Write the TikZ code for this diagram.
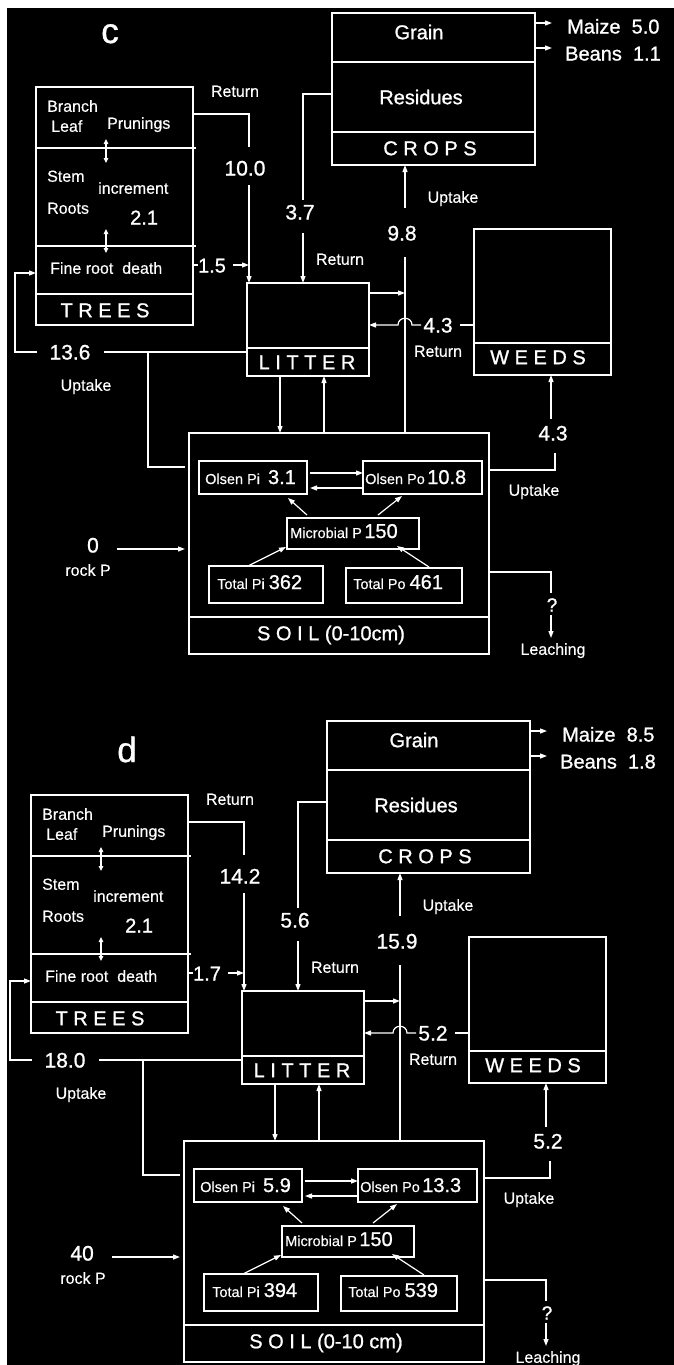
\documentclass[tikz,border=0pt]{standalone}
\usepackage{fontspec}
\setmainfont{Liberation Sans}[FakeBold=0.35]
\newfontfamily\heavy{Liberation Sans}[FakeBold=1.0]
\usetikzlibrary{arrows.meta}
\tikzset{
  box/.style={draw=white, line width=1.8pt, inner sep=0pt, outer sep=0pt, anchor=north west},
  ibox/.style={draw=white, line width=1.1pt, inner sep=0pt, outer sep=0pt, anchor=north west},
  sep/.style={draw=white, line width=1.5pt},
  conn/.style={draw=white, line width=1.2pt},
  arr/.style={conn, -{Triangle[length=7pt,width=5pt]}},
  darr/.style={conn, {Triangle[length=5pt,width=4.5pt]}-{Triangle[length=5pt,width=4.5pt]}},
  sm/.style={text=white, inner sep=0pt, text height=11.5pt, text depth=0pt, font=\fontsize{16}{18}\selectfont},
  num/.style={text=white, inner sep=0pt, text height=15pt, text depth=0pt, font=\heavy\fontsize{21}{24}\selectfont},
  big/.style={text=white, inner sep=0pt, text height=14.4pt, text depth=0pt, font=\heavy\fontsize{20}{24}\selectfont},
  tiny/.style={text=white, inner sep=0pt, anchor=base west, font=\fontsize{14.5}{16}\selectfont},
  letter/.style={text=white, inner sep=0pt, anchor=base, font=\heavy\fontsize{35}{36}\selectfont},
}
\newcommand{\bn}[1]{{\heavy\fontsize{20}{20}\selectfont #1}}
\newcommand{\panelbody}{%
  \node[letter] (letter) at (\vLx,\vLy) {\vL};
  % boxes
  \node[box, minimum width=157pt, minimum height=238pt] (trees) at (36,87) {};
  \node[box, minimum width=203pt, minimum height=152pt] (crops) at (332,13) {};
  \node[box, minimum width=122pt, minimum height=93pt] (litter) at (247,283) {};
  \node[box, minimum width=137pt, minimum height=146pt] (weeds) at (474,229) {};
  \node[box, minimum width=300pt, minimum height=221pt] (soil) at (189,433) {};
  \node[ibox, minimum width=108pt, minimum height=33pt] (opi) at (199,461) {};
  \node[ibox, minimum width=119pt, minimum height=33pt] (opo) at (363,461) {};
  \node[ibox, minimum width=132pt, minimum height=31pt] (mic) at (287,518) {};
  \node[ibox, minimum width=114pt, minimum height=37pt] (tpi) at (209,566) {};
  \node[ibox, minimum width=116pt, minimum height=35pt] (tpo) at (346,568) {};
  % separators
  \draw[sep] (36,148) -- (196,148);
  \draw[sep] (36,246) -- (196,246);
  \draw[sep] (36,294) -- (193,294);
  \draw[sep] (332,62) -- (535,62);
  \draw[sep] (332,132) -- (535,132);
  \draw[sep] (247,348) -- (369,348);
  \draw[sep] (474,343) -- (611,343);
  \draw[sep] (189,617) -- (489,617);
  % box texts
  \node[sm, anchor=west] (branch) at (47,106) {Branch};
  \node[sm, anchor=west] (leaf) at (51,126) {Leaf};
  \node[sm, anchor=west] (prun) at (107,123) {Prunings};
  \node[sm, anchor=west] (stem) at (47,176) {Stem};
  \node[sm, anchor=west] (incr) at (98,188) {increment};
  \node[sm, anchor=west] (roots) at (47,208) {Roots};
  \node[num, anchor=west, font=\heavy\fontsize{20}{22}\selectfont] (inc) at (130,217) {2.1};
  \node[sm, anchor=west] (frd) at (50,268) {Fine root\ \ death};
  \coordinate (da1) at (106,139); \coordinate (da2) at (106,163);
  \draw[darr] (da1) -- (da2);
  \coordinate (db1) at (106,229); \coordinate (db2) at (106,253);
  \draw[darr] (db1) -- (db2);
  \node[big] (treesl) at (105,310) {T R E E S};
  \node[big] (grain) at (419,32) {Grain};
  \node[big] (resid) at (421,97) {Residues};
  \node[big] (cropsl) at (430,148) {C R O P S};
  \node[big] (litl) at (307,362) {L I T T E R};
  \node[big] (weedsl) at (538,357) {W E E D S};
  \node[big] (soill) at (331,633) {\vSoil};
  \node[tiny] (topi) at (205,484) {Olsen Pi\ \ \bn{\vOpi}};
  \node[tiny] (topo) at (365,484) {Olsen Po\,\bn{\vOpo}};
  \node[tiny] (tmic) at (290,538) {Microbial P\,\bn{\vMic}};
  \node[tiny] (ttpi) at (217,589) {Total Pi \bn{\vTpi}};
  \node[tiny] (ttpo) at (353,589) {Total Po \bn{\vTpo}};
  % prunings return
  \node[sm] (ret1) at (235,91) {Return};
  \coordinate (pa) at (249,114);
  \coordinate (pa2) at (249,147);
  \draw[conn] (trees.east |- pa) -- (pa) -- (pa2);
  \node[num] (vprun) at (245,168) {\vPrun};
  \coordinate (pb) at (249,185);
  \draw[arr] (pb) -- (pb |- litter.north);
  % fine root death
  \coordinate (fa) at (198,265);
  \draw[conn] (trees.east |- fa) -- (fa);
  \node[num, font=\heavy\fontsize{20}{22}\selectfont] (vfr) at (212,265) {\vFr};
  \coordinate (fb) at (233,265);
  \draw[arr] (fb) -- (pa |- fb);
  % crop residue return
  \coordinate (ca) at (303,94);
  \coordinate (ca2) at (303,200);
  \draw[conn] (crops.west |- ca) -- (ca) -- (ca2);
  \node[num] (vcr) at (300,212) {\vCr};
  \coordinate (cb) at (303,233);
  \draw[arr] (cb) -- (cb |- litter.north);
  \node[sm] (ret2) at (340,259) {Return};
  % crop uptake
  \coordinate (ua) at (405,257);
  \draw[conn] (ua |- soil.north) -- (ua);
  \node[num] (vcu) at (402,233) {\vCu};
  \coordinate (ub) at (405,208);
  \draw[arr] (ub) -- (ub |- crops.south);
  \node[sm] (upt1) at (453,197) {Uptake};
  % exports
  \coordinate (ga) at (552,23);
  \draw[arr] (crops.east |- ga) -- (ga);
  \node[num, anchor=west, font=\heavy\fontsize{20}{22}\selectfont] (maize) at (567,26) {Maize\ \ \vMaize};
  \coordinate (gb) at (552,48);
  \draw[arr] (crops.east |- gb) -- (gb);
  \node[num, anchor=west, font=\heavy\fontsize{20}{22}\selectfont] (beans) at (565,53) {Beans\ \ \vBeans};
  % litter to uptake line
  \coordinate (la) at (405,293);
  \draw[arr] (litter.east |- la) -- (la);
  % weeds return
  \coordinate (wa) at (460,325);
  \draw[conn] (weeds.west |- wa) -- (wa);
  \node[num] (vwr) at (438,325) {\vWr};
  \coordinate (wb) at (421,325);
  \coordinate (wj1) at (412,325);
  \coordinate (wj2) at (398,325);
  \draw[arr] (wb) -- (wj1) .. controls (412,316) and (398,316) .. (wj2) -- (litter.east |- wb);
  \node[sm] (ret3) at (438,351) {Return};
  % tree uptake
  \coordinate (td) at (185,467);
  \coordinate (ta) at (148,467);
  \coordinate (tb) at (148,352);
  \coordinate (tc) at (104,352);
  \draw[conn] (td) -- (ta) -- (tb) -- (tc);
  \draw[conn] (tb) -- (litter.west |- tb);
  \node[num] (vtu) at (70,352) {\vTu};
  \coordinate (te) at (37,352);
  \coordinate (tf) at (15,352);
  \coordinate (tg) at (15,273);
  \draw[arr] (te) -- (tf) -- (tg) -- (trees.west |- tg);
  \node[sm] (upt2) at (86,385) {Uptake};
  % litter <-> soil
  \coordinate (ls1) at (280,400);
  \draw[arr] (litter.south -| ls1) -- (soil.north -| ls1);
  \coordinate (ls2) at (324,400);
  \draw[arr] (soil.north -| ls2) -- (litter.south -| ls2);
  % soil internal flows
  \coordinate (oa) at (310,473);
  \draw[arr] (oa) -- (opo.west |- oa);
  \coordinate (ob) at (310,488);
  \draw[arr] (opo.west |- ob) -- (ob);
  \coordinate (m1) at (307,515); \coordinate (m2) at (288,498);
  \draw[arr] (m1) -- (m2);
  \coordinate (m3) at (378,515); \coordinate (m4) at (402,496);
  \draw[arr] (m3) -- (m4);
  \coordinate (m5) at (248,566); \coordinate (m6) at (286,547);
  \draw[arr] (m5) -- (m6);
  \coordinate (m7) at (429,567); \coordinate (m8) at (397,546);
  \draw[arr] (m7) -- (m8);
  % rock P
  \node[num, anchor=east] (vrock) at (99,545) {\vRock};
  \coordinate (ra) at (117,549);
  \coordinate (rb) at (185,549);
  \draw[arr] (ra) -- (rb);
  \node[sm] (rockp) at (88,570) {rock P};
  % weeds uptake
  \coordinate (wu1) at (555,470);
  \coordinate (wu2) at (555,453);
  \draw[conn] (soil.east |- wu1) -- (wu1) -- (wu2);
  \node[num] (vwu) at (553,433) {\vWu};
  \coordinate (wu3) at (551,419);
  \draw[arr] (wu3) -- (wu3 |- weeds.south);
  \node[sm] (upt3) at (534,490) {Uptake};
  % leaching
  \coordinate (le1) at (551,572);
  \coordinate (le2) at (551,593);
  \draw[conn] (soil.east |- le1) -- (le1) -- (le2);
  \node[num, font=\heavy\fontsize{19}{22}\selectfont] (q) at (552,604) {?};
  \coordinate (le3) at (551,615);
  \coordinate (le4) at (551,638);
  \draw[arr] (le3) -- (le4);
  \node[sm] (leach) at (553,649) {Leaching};
}
\begin{document}
\begin{tikzpicture}[x=1pt, y=-1pt]
\useasboundingbox (0,0) rectangle (674,1365);
\fill[white] (0,0) rectangle (674,1365);
\fill[black] (7,8) rectangle (674,1365);
\begin{scope}[name prefix=c-]
\def\vL{c}\def\vLx{110}\def\vLy{43}
\def\vPrun{10.0}\def\vFr{1.5}\def\vCr{3.7}\def\vCu{9.8}\def\vWr{4.3}\def\vTu{13.6}\def\vWu{4.3}
\def\vMaize{5.0}\def\vBeans{1.1}\def\vOpi{3.1}\def\vOpo{10.8}\def\vMic{150}\def\vTpi{362}\def\vTpo{461}
\def\vRock{0}\def\vSoil{S O I L (0-10cm)}
\panelbody
\end{scope}
\begin{scope}[shift={(-5,708)}, name prefix=d-]
\def\vL{d}\def\vLx{132}\def\vLy{54}
\def\vPrun{14.2}\def\vFr{1.7}\def\vCr{5.6}\def\vCu{15.9}\def\vWr{5.2}\def\vTu{18.0}\def\vWu{5.2}
\def\vMaize{8.5}\def\vBeans{1.8}\def\vOpi{5.9}\def\vOpo{13.3}\def\vMic{150}\def\vTpi{394}\def\vTpo{539}
\def\vRock{40}\def\vSoil{S O I L (0-10 cm)}
\panelbody
\end{scope}
\end{tikzpicture}
\end{document}
